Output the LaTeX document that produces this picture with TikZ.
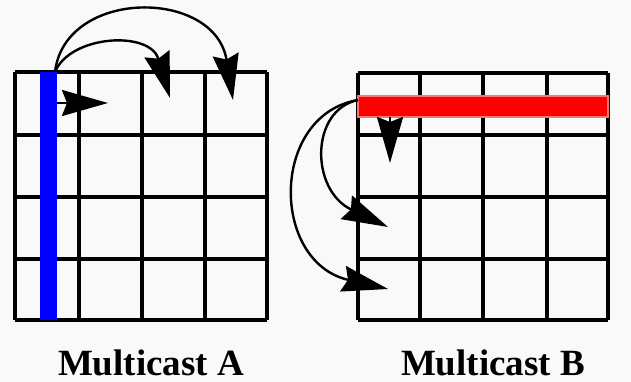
\documentclass[tikz,border=0pt]{standalone}
\usepackage{fontspec}
\setmainfont{Liberation Serif}
\usetikzlibrary{arrows.meta}
\begin{document}
\begin{tikzpicture}[x=1pt,y=-1pt,
  gridline/.style={line width=3.2pt,black},
  arc/.style={line width=2.4pt,black,-{Stealth[length=46pt,width=26pt,inset=5pt]}},
  lab/.style={font=\bfseries\fontsize{37}{42}\selectfont,anchor=base,inner sep=0pt}]
\fill[gray!5] (0,0) rectangle (631,382);
\useasboundingbox (0,0) rectangle (631,382);
% Grid A
\foreach \x in {15,79,142,205,267} \draw[gridline] (\x,72) -- (\x,320);
\foreach \y in {72,135,197,259,320} \draw[gridline] (15,\y) -- (267,\y);
\fill[blue] (40,72) rectangle (57,320);
% Grid B
\foreach \x in {358,420,483,547,608} \draw[gridline] (\x,73) -- (\x,320);
\foreach \y in {73,135,197,259,320} \draw[gridline] (358,\y) -- (608,\y);
\filldraw[fill=red,draw=red!55!white,line width=1.2pt] (358,96) rectangle (608,117);
% coordinates
\coordinate (a0) at (55,72);
\coordinate (as) at (57,103);
\coordinate (a1) at (108,103);
\coordinate (a2) at (170,98);
\coordinate (a3) at (233,100);
\coordinate (b0) at (358,100);
\coordinate (bs) at (390,117);
\coordinate (b1) at (390,163);
\coordinate (b2) at (388,227);
\coordinate (b3) at (388,289);
% arrows A
\draw[arc] (as) -- (a1);
\draw[arc] (a0) .. controls (70,35) and (150,30) .. (a2);
\draw[arc] (a0) .. controls (65,-12) and (215,-12) .. (a3);
% arrows B
\draw[arc] (bs) -- (b1);
\draw[arc] (b0) .. controls (310,110) and (310,190) .. (b2);
\draw[arc] (b0) .. controls (270,115) and (270,262) .. (b3);
% labels
\node[lab] (la) at (151,375) {Multicast A};
\node[lab] (lb) at (493,375) {Multicast B};
\end{tikzpicture}
\end{document}
